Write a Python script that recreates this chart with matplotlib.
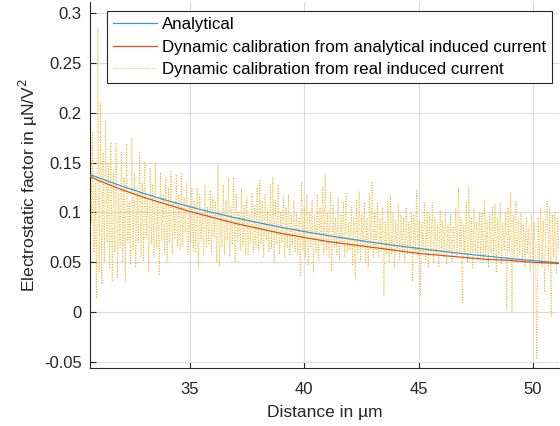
import numpy as np
import matplotlib
matplotlib.use("Agg")
import matplotlib.pyplot as plt

plt.rcParams['font.family'] = ['Liberation Sans', 'DejaVu Sans']

# Smooth curves (read at integer-ish distances)
x_smooth = [30.63, 31, 32, 33, 34, 35, 36, 37, 38, 39, 40, 41, 42, 43, 44, 45,
            46, 47, 48, 49, 50, 51.14]
analytical = [0.138, 0.1348, 0.1265, 0.1189, 0.1120, 0.1057, 0.0999, 0.0946,
              0.0897, 0.0851, 0.0809, 0.0770, 0.0734, 0.0700, 0.0669, 0.0640,
              0.0612, 0.0586, 0.0562, 0.0539, 0.0518, 0.0495]
dyn_analytical = [0.136, 0.132, 0.123, 0.115, 0.108, 0.101, 0.095, 0.089,
                  0.084, 0.079, 0.075, 0.071, 0.068, 0.065, 0.062, 0.059,
                  0.057, 0.055, 0.053, 0.052, 0.050, 0.049]

# Noisy series
dyn_real = [
    0.248, 0.090, 0.180, 0.060, 0.130, 0.014, 0.285, 0.040, 0.209, 0.028,
    0.160, 0.050, 0.193, 0.070, 0.150, 0.045, 0.170, 0.031, 0.140, 0.060,
    0.170, 0.035, 0.120, 0.065, 0.160, 0.050, 0.135, 0.031, 0.168, 0.070,
    0.110, 0.048, 0.175, 0.062, 0.140, 0.045, 0.120, 0.070, 0.160, 0.055,
    0.130, 0.052, 0.150, 0.075, 0.115, 0.040, 0.145, 0.068, 0.128, 0.055,
    0.150, 0.065, 0.110, 0.037, 0.140, 0.072, 0.118, 0.060, 0.135, 0.050,
    0.125, 0.070, 0.141, 0.058, 0.110, 0.075, 0.138, 0.066, 0.118, 0.062,
    0.140, 0.066, 0.115, 0.080, 0.130, 0.058, 0.108, 0.070, 0.125, 0.062,
    0.112, 0.060, 0.125, 0.045, 0.118, 0.072, 0.100, 0.058, 0.128, 0.065,
    0.105, 0.068, 0.122, 0.060, 0.115, 0.075, 0.110, 0.050, 0.148, 0.046,
    0.100, 0.065, 0.128, 0.058, 0.112, 0.072, 0.135, 0.055, 0.105, 0.068,
    0.135, 0.050, 0.118, 0.070, 0.100, 0.062, 0.125, 0.066, 0.108, 0.058,
    0.115, 0.057, 0.098, 0.070, 0.120, 0.060, 0.108, 0.065, 0.125, 0.062,
    0.132, 0.068, 0.110, 0.055, 0.118, 0.072, 0.102, 0.060, 0.128, 0.064,
    0.136, 0.050, 0.112, 0.068, 0.128, 0.058, 0.100, 0.070, 0.115, 0.055,
    0.105, 0.065, 0.118, 0.058, 0.098, 0.068, 0.112, 0.060, 0.100, 0.058,
    0.095, 0.036, 0.130, 0.062, 0.105, 0.055, 0.118, 0.048, 0.100, 0.065,
    0.112, 0.040, 0.098, 0.060, 0.118, 0.052, 0.105, 0.068, 0.125, 0.058,
    0.138, 0.062, 0.100, 0.055, 0.121, 0.041, 0.108, 0.065, 0.095, 0.058,
    0.115, 0.052, 0.098, 0.066, 0.110, 0.055, 0.120, 0.060, 0.090, 0.062,
    0.105, 0.048, 0.095, 0.033, 0.112, 0.060, 0.121, 0.052, 0.098, 0.065,
    0.110, 0.050, 0.095, 0.045, 0.118, 0.062, 0.131, 0.055, 0.100, 0.060,
    0.110, 0.055, 0.095, 0.062, 0.105, 0.016, 0.090, 0.058, 0.112, 0.050,
    0.116, 0.058, 0.100, 0.045, 0.092, 0.062, 0.108, 0.052, 0.098, 0.060,
    0.095, 0.050, 0.105, 0.058, 0.090, 0.062, 0.100, 0.031, 0.098, 0.060,
    0.123, 0.055, 0.092, 0.018, 0.090, 0.060, 0.110, 0.052, 0.100, 0.045,
    0.098, 0.060, 0.110, 0.050, 0.095, 0.058, 0.088, 0.045, 0.102, 0.060,
    0.092, 0.055, 0.100, 0.048, 0.088, 0.062, 0.098, 0.050, 0.085, 0.058,
    0.105, 0.055, 0.125, 0.060, 0.095, 0.010, 0.088, 0.058, 0.110, 0.050,
    0.126, 0.058, 0.095, 0.045, 0.105, 0.060, 0.090, 0.052, 0.100, 0.055,
    0.100, 0.050, 0.112, 0.058, 0.092, 0.045, 0.098, 0.060, 0.105, 0.055,
    0.108, 0.040, 0.095, 0.058, 0.110, 0.048, 0.090, 0.062, 0.100, 0.003,
    0.105, 0.060, 0.120, 0.000, 0.098, 0.055, 0.112, 0.050, 0.092, 0.058,
    0.100, 0.050, 0.088, 0.045, 0.095, 0.060, 0.085, 0.040, 0.098, 0.052,
    0.090, 0.060, -0.047, 0.095, 0.050, 0.105, 0.045, 0.092, 0.020, 0.100,
    0.111, 0.045, 0.105, -0.004, 0.098, 0.055, 0.100, 0.040, 0.095, 0.060,
]
x_real = np.linspace(30.63, 51.14, len(dyn_real))

labels = ['Analytical',
          'Dynamic calibration from analytical induced current',
          'Dynamic calibration from real induced current']
xticks = [35, 40, 45, 50]
yticks = [-0.05, 0, 0.05, 0.1, 0.15, 0.2, 0.25, 0.3]
yticklabels = ['-0.05', '0', '0.05', '0.1', '0.15', '0.2', '0.25', '0.3']

fig = plt.figure(figsize=(5.6, 4.26), dpi=100)
ax = fig.add_axes([90/560, 58/426, 469/560, 366/426])

ax.plot(x_smooth, analytical, color='#3a9ad6', lw=0.9, label=labels[0], zorder=3)
ax.plot(x_smooth, dyn_analytical, color='#D95319', lw=0.9, label=labels[1], zorder=3)
ax.plot(x_real, dyn_real, color='#EDB120', lw=0.7, ls=':', alpha=0.9,
        label=labels[2], zorder=2)

ax.set_xlim(30.63, 51.14)
ax.set_ylim(-0.0557, 0.3107)
ax.set_xticks(xticks)
ax.set_yticks(yticks)
ax.set_yticklabels(yticklabels)
ax.grid(True, color='#dcdcdc', lw=0.8)
ax.set_axisbelow(True)
for s in ['top', 'right']:
    ax.spines[s].set_visible(False)
for s in ['left', 'bottom']:
    ax.spines[s].set_color('#262626')
    ax.spines[s].set_linewidth(0.8)
ax.tick_params(direction='in', length=4, width=0.8, colors='#262626',
               labelsize=12)
ax.tick_params(axis='y', pad=6)
ax.tick_params(axis='x', pad=10)
ax.set_xlabel('Distance in µm', fontsize=12.5, color='#262626', labelpad=6)
ax.set_ylabel('Electrostatic factor in µN/V$^2$', fontsize=12.5, color='#262626',
              labelpad=3)

leg = ax.legend(loc='upper left', bbox_to_anchor=(107/560, 1 - 11/426),
                bbox_transform=fig.transFigure, borderaxespad=0,
                fontsize=12.2, handlelength=2.6, frameon=True, fancybox=False,
                framealpha=1, edgecolor='#262626', borderpad=0.35,
                labelspacing=0.45, handletextpad=0.3)
leg.get_frame().set_linewidth(0.8)

fig.savefig('out.png', dpi=100)
